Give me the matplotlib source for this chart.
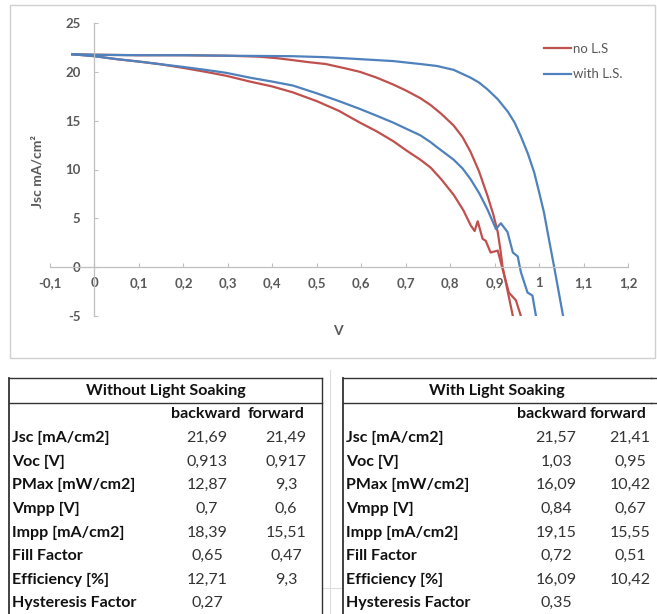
import matplotlib.pyplot as plt
from matplotlib.patches import Rectangle
from matplotlib.lines import Line2D
from matplotlib.ticker import FuncFormatter, MultipleLocator

plt.rcParams['font.family'] = ['Lato', 'DejaVu Sans']

# J-V curves (V in volt, J in mA/cm2)
v_nols_bwd = [-0.05, 0.0, 0.1, 0.2, 0.3, 0.37, 0.41, 0.446, 0.48, 0.52, 0.56, 0.597, 0.635,
              0.672, 0.70, 0.733, 0.756, 0.78, 0.808, 0.828, 0.846, 0.865, 0.884, 0.897,
              0.907, 0.913, 0.918, 0.93, 0.941]
j_nols_bwd = [21.8, 21.75, 21.7, 21.7, 21.65, 21.55, 21.4, 21.2, 21.0, 20.8, 20.4, 20.0, 19.4,
              18.7, 18.1, 17.3, 16.6, 15.7, 14.5, 13.3, 11.8, 9.8, 7.3, 5.4,
              3.6, 1.8, 0.0, -2.6, -5.0]

v_nols_fwd = [-0.05, 0.0, 0.05, 0.1, 0.145, 0.2, 0.25, 0.296, 0.35, 0.4, 0.446, 0.5, 0.55,
              0.597, 0.635, 0.672, 0.70, 0.733, 0.756, 0.78, 0.808, 0.83, 0.846, 0.855, 0.862,
              0.873, 0.88, 0.891, 0.907, 0.918, 0.932, 0.948, 0.959]
j_nols_fwd = [21.8, 21.6, 21.3, 21.05, 20.8, 20.4, 20.0, 19.6, 19.0, 18.5, 17.9, 17.0, 16.0,
              14.8, 13.9, 12.9, 12.0, 11.0, 10.2, 9.0, 7.4, 5.8, 4.3, 3.7, 4.7,
              2.9, 2.7, 1.5, 1.7, -0.2, -2.6, -3.4, -5.0]

v_ls_bwd = [-0.05, 0.0, 0.1, 0.2, 0.3, 0.446, 0.52, 0.597, 0.672, 0.733, 0.77, 0.808, 0.846,
            0.865, 0.884, 0.907, 0.93, 0.945, 0.959, 0.975, 0.989, 1.0, 1.011, 1.022,
            1.034, 1.044, 1.054]
j_ls_bwd = [21.8, 21.75, 21.7, 21.7, 21.65, 21.6, 21.5, 21.3, 21.1, 20.8, 20.6, 20.2, 19.4,
            18.9, 18.2, 17.2, 15.9, 14.8, 13.4, 11.6, 9.7, 7.7, 5.6, 2.9,
            0.0, -2.5, -5.0]

v_ls_fwd = [-0.05, 0.0, 0.05, 0.1, 0.145, 0.2, 0.25, 0.296, 0.35, 0.4, 0.446, 0.5, 0.55,
            0.597, 0.635, 0.672, 0.70, 0.733, 0.756, 0.77, 0.808, 0.828, 0.846, 0.865, 0.884,
            0.903, 0.914, 0.929, 0.941, 0.952, 0.959, 0.974, 0.985, 0.993]
j_ls_fwd = [21.8, 21.6, 21.3, 21.05, 20.8, 20.5, 20.2, 19.9, 19.4, 19.0, 18.6, 17.8, 17.0,
            16.2, 15.5, 14.8, 14.2, 13.5, 12.8, 12.3, 11.0, 10.1, 9.0, 7.6, 5.9,
            3.9, 4.5, 3.6, 1.5, 1.1, -0.5, -2.6, -2.9, -5.0]

# table contents
row_labels = ['Jsc [mA/cm2]', 'Voc [V]', 'PMax [mW/cm2]', 'Vmpp [V]', 'Impp [mA/cm2]',
              'Fill Factor', 'Efficiency [%]', 'Hysteresis Factor']
nols_backward = ['21,69', '0,913', '12,87', '0,7', '18,39', '0,65', '12,71', '0,27']
nols_forward = ['21,49', '0,917', '9,3', '0,6', '15,51', '0,47', '9,3', '']
ls_backward = ['21,57', '1,03', '16,09', '0,84', '19,15', '0,72', '16,09', '0,35']
ls_forward = ['21,41', '0,95', '10,42', '0,67', '15,55', '0,51', '10,42', '']

RED = '#C0504D'
BLUE = '#4F81BD'
GREY = '#595959'
AXCOL = '#BFBFBF'
FS = 11.5

W, H = 657, 614
fig = plt.figure(figsize=(W / 100, H / 100), dpi=100)


def fx(px):
    return px / W


def fy(py):
    return 1 - py / H


# chart area frame
fig.patches.append(Rectangle((fx(10), fy(358)), fx(645), 353 / H, transform=fig.transFigure,
                             fill=False, edgecolor='#D0D0D0', linewidth=1))

ax = fig.add_axes([fx(50), fy(316), fx(628 - 50), (316 - 23) / H])
for v, j, c in [(v_nols_bwd, j_nols_bwd, RED), (v_nols_fwd, j_nols_fwd, RED),
                (v_ls_bwd, j_ls_bwd, BLUE), (v_ls_fwd, j_ls_fwd, BLUE)]:
    ax.plot(v, j, color=c, lw=1.6, solid_joinstyle='round')

ax.set_xlim(-0.1, 1.2)
ax.set_ylim(-5, 25)
ax.spines['left'].set_position(('data', 0))
ax.spines['bottom'].set_position(('data', 0))
ax.spines['top'].set_visible(False)
ax.spines['right'].set_visible(False)
for s in ('left', 'bottom'):
    ax.spines[s].set_color(AXCOL)
    ax.spines[s].set_linewidth(0.9)
ax.xaxis.set_major_locator(MultipleLocator(0.1))
ax.yaxis.set_major_locator(MultipleLocator(5))


def comma(x, pos):
    s = f'{x:.1f}'.rstrip('0').rstrip('.')
    if s == '-0':
        s = '0'
    return s.replace('.', ',')


ax.xaxis.set_major_formatter(FuncFormatter(comma))
ax.yaxis.set_major_formatter(FuncFormatter(lambda x, p: f'{x:.0f}'))
ax.tick_params(axis='both', direction='in', length=3, color=AXCOL, labelcolor=GREY, labelsize=9.5)
ax.tick_params(axis='x', pad=7)
ax.tick_params(axis='y', pad=10)
for lab in ax.get_xticklabels() + ax.get_yticklabels():
    lab.set_fontweight('bold')

fig.text(fx(38), fy(172), 'Jsc mA/cm²', rotation=90, ha='center', va='center',
         color=GREY, fontsize=10, fontweight='bold')
fig.text(fx(338), fy(331), 'V', ha='center', va='center', color=GREY, fontsize=10, fontweight='bold')

handles = [Line2D([], [], color=RED, lw=1.6), Line2D([], [], color=BLUE, lw=1.6)]
leg = fig.legend(handles, ['no L.S', 'with L.S.'], loc='upper left',
                 bbox_to_anchor=(fx(537), fy(36)), frameon=False, fontsize=9.5,
                 handlelength=2.1, handletextpad=0.12, labelspacing=1.05, borderpad=0)
for t in leg.get_texts():
    t.set_color(GREY)

# tables
row_y = [438, 462, 485, 509, 533, 556, 580, 603]


def line(x0, x1, y0, y1, lw=1.0, color='#333333'):
    fig.add_artist(Line2D([fx(x0), fx(x1)], [fy(y0), fy(y1)], transform=fig.transFigure,
                          color=color, lw=lw))


def draw_table(x0, x1, title, bwd, fwd, xb, xf, hb, hf, right_border=True):
    line(x0, x1, 378, 378)
    line(x0, x1, 403, 403)
    line(x0, x0, 378, 614, lw=1.3)
    if right_border:
        line(x1, x1, 378, 614)
    fig.text(fx((x0 + x1) / 2), fy(391), title, ha='center', va='center',
             fontsize=FS, fontweight='bold', color='#111111')
    fig.text(fx(hb), fy(414), 'backward', ha='center', va='center',
             fontsize=FS, fontweight='bold', color='#111111')
    fig.text(fx(hf), fy(414), 'forward', ha='center', va='center',
             fontsize=FS, fontweight='bold', color='#111111')
    for lab, b, f, y in zip(row_labels, bwd, fwd, row_y):
        fig.text(fx(x0 + 3), fy(y), lab, ha='left', va='center',
                 fontsize=FS, fontweight='bold', color='#111111')
        fig.text(fx(xb), fy(y), b, ha='center', va='center', fontsize=FS, color='#333333')
        if f:
            fig.text(fx(xf), fy(y), f, ha='center', va='center', fontsize=FS, color='#333333')


# faint sheet gridlines between the tables
line(330, 330, 370, 614, lw=0.8, color='#DDDDDD')
line(322, 343, 588, 588, lw=0.8, color='#DDDDDD')

draw_table(9, 322, 'Without Light Soaking', nols_backward, nols_forward, 207, 286, 206, 276)
draw_table(343, 651, 'With Light Soaking', ls_backward, ls_forward, 556, 630, 552, 618,
           right_border=False)
line(651, 657, 378, 378)
line(651, 657, 403, 403)

fig.savefig('out.png', dpi=100)
